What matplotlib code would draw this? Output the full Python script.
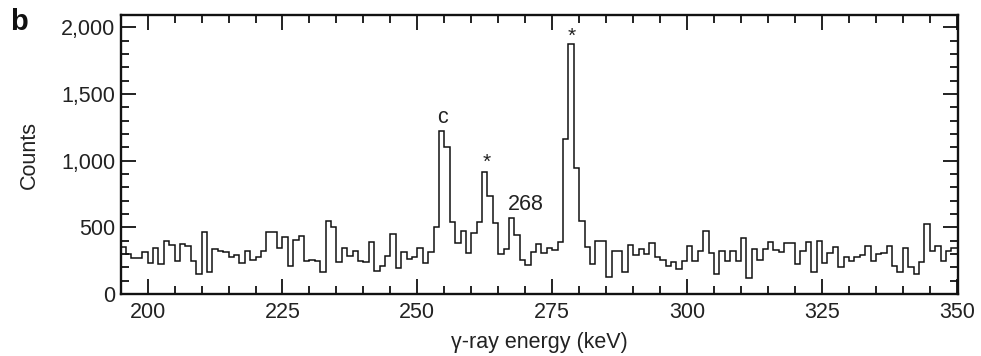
import numpy as np
import matplotlib
matplotlib.use('Agg')
import matplotlib.pyplot as plt
from matplotlib.ticker import MultipleLocator, FuncFormatter

# 1-keV bins starting at 195 keV
start_kev = 195
counts = [355, 300, 270, 270, 315, 230, 348, 222, 395, 368,
          250, 375, 363, 250, 150, 463, 168, 335, 325, 315,
          278, 290, 230, 325, 258, 275, 323, 463, 463, 345,
          425, 213, 405, 438, 250, 255, 250, 163, 550, 505,
          238, 348, 285, 323, 250, 243, 394, 175, 213, 288,
          450, 195, 313, 263, 275, 348, 230, 313, 500, 1225,
          1100, 538, 380, 470, 305, 460, 538, 918, 735, 535,
          298, 335, 573, 443, 255, 215, 315, 375, 305, 348,
          330, 393, 1163, 1873, 948, 545, 355, 223, 400, 400,
          128, 320, 325, 168, 368, 293, 338, 298, 380, 275,
          255, 210, 243, 185, 248, 358, 250, 323, 475, 310,
          150, 325, 245, 325, 250, 423, 118, 335, 255, 335,
          393, 330, 313, 380, 380, 223, 320, 393, 163, 400,
          230, 310, 355, 200, 280, 250, 280, 292, 360, 248,
          300, 310, 360, 213, 168, 348, 200, 148, 238, 523,
          323, 360, 250, 323, 343]
edges = np.arange(start_kev, start_kev + len(counts) + 1)

peak_labels = ['c', '*', '268', '*']
peak_x = [254.6, 262.8, 270.1, 278.6]
peak_y = [1325, 985, 668, 1935]

plt.rcParams['font.family'] = ['Liberation Sans', 'DejaVu Sans']
plt.rcParams['font.size'] = 15.5

fig = plt.figure(figsize=(9.81, 3.56), dpi=100)
ax = fig.add_axes([0.123, 0.174, 0.854, 0.783])

ax.stairs(counts, edges, baseline=None, color='#111111', lw=1.1)

for lab, x, y in zip(peak_labels, peak_x, peak_y):
    fs = 15 if lab == '*' else 15.5
    ax.text(x, y, lab, ha='center', va='center', fontsize=fs, color='#222222')

ax.set_xlim(195, 350.3)
ax.set_ylim(0, 2090)
ax.xaxis.set_major_locator(MultipleLocator(25))
ax.xaxis.set_minor_locator(MultipleLocator(5))
ax.yaxis.set_major_locator(MultipleLocator(500))
ax.yaxis.set_minor_locator(MultipleLocator(100))
ax.yaxis.set_major_formatter(FuncFormatter(lambda v, p: '{:,.0f}'.format(v)))

ax.tick_params(which='both', direction='in', top=True, right=True, width=1.3, color='#111111', labelcolor='#222222')
ax.tick_params(which='major', length=11)
ax.tick_params(which='minor', length=5.5)
ax.tick_params(axis='x', pad=6)
ax.tick_params(axis='y', pad=4)
for s in ax.spines.values():
    s.set_linewidth(1.7)
    s.set_color('#111111')

ax.set_xlabel('γ-ray energy (keV)', color='#222222', labelpad=6)
ax.set_ylabel('Counts', color='#222222', labelpad=15)

fig.text(0.010, 0.915, 'b', fontsize=21, fontweight='bold', color='#111111')

fig.savefig('out.png', dpi=100)
